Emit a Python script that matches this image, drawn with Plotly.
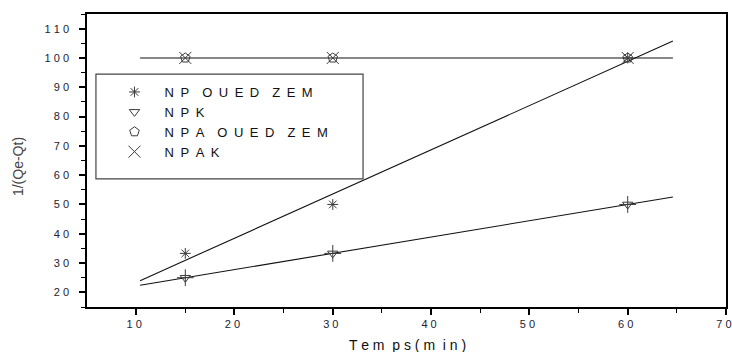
import numpy as np
import plotly.graph_objects as go

# ---- data ----
time_min = [15, 30, 60]
np_oued_zem = [33.3, 50.0, 100.0]
npk = [25.0, 33.3, 50.0]
npa_oued_zem = [100.0, 100.0, 100.0]
npak = [100.0, 100.0, 100.0]
fit_span = [10.4, 64.6]

series_names = [
    "N\u2002P\u2002\u2002O\u2002U\u2002E\u2002D\u2002\u2002Z\u2002E\u2002M",
    "N\u2002P\u2002K",
    "N\u2002P\u2002A\u2002\u2002O\u2002U\u2002E\u2002D\u2002\u2002Z\u2002E\u2002M",
    "N\u2002P\u2002A\u2002K",
]

x_ticks = [10, 20, 30, 40, 50, 60, 70]
x_ticktext = ["1 0", "2 0", "3 0", "4 0", "5 0", "6 0", "7 0"]
x_minor = [15, 25, 35, 45, 55, 65]
y_ticks = [20, 30, 40, 50, 60, 70, 80, 90, 100, 110]
y_ticktext = ["2 0", "3 0", "4 0", "5 0", "6 0", "7 0", "8 0", "9 0", "1 0 0", "1 1 0"]
y_minor = [15, 25, 35, 45, 55, 65, 75, 85, 95, 105, 115]

FONT = "Liberation Sans, Arial, sans-serif"
MK = "#3a3a3a"
LEAD = "\u2002 "

fig = go.Figure()

# linear fit lines
fx = np.array(fit_span)
for ys in (np_oued_zem, npk, npa_oued_zem):
    a, b = np.polyfit(time_min, ys, 1)
    fig.add_trace(go.Scatter(x=fx, y=a * fx + b, mode="lines",
                             line=dict(color="#111111", width=1.1),
                             showlegend=False, hoverinfo="skip"))

# markers
fig.add_trace(go.Scatter(x=time_min, y=np_oued_zem, mode="markers", name=LEAD + series_names[0],
                         marker=dict(symbol="asterisk-open", size=9, color=MK,
                                     line=dict(color=MK, width=1))))
fig.add_trace(go.Scatter(x=time_min, y=npk, mode="markers", name=LEAD + series_names[1],
                         marker=dict(symbol="triangle-down-open", size=9, color=MK,
                                     line=dict(color=MK, width=1))))
fig.add_trace(go.Scatter(x=time_min, y=npk, mode="markers", showlegend=False,
                         marker=dict(symbol="cross-thin-open", size=12, color=MK,
                                     line=dict(color=MK, width=1))))
fig.add_trace(go.Scatter(x=time_min, y=npa_oued_zem, mode="markers", name=LEAD + series_names[2],
                         marker=dict(symbol="pentagon-open", size=10, color=MK,
                                     line=dict(color=MK, width=1))))
fig.add_trace(go.Scatter(x=time_min, y=npak, mode="markers", name=LEAD + series_names[3],
                         marker=dict(symbol="x-thin-open", size=12, color=MK,
                                     line=dict(color=MK, width=1))))

axis_common = dict(showgrid=False, zeroline=False, showline=True, mirror=True,
                   linecolor="black", linewidth=1.6, ticks="outside", ticklen=6,
                   tickwidth=1.5, tickcolor="black", automargin=False,
                   tickfont=dict(family=FONT, size=11, color="#222233"))

fig.update_layout(
    width=732, height=352,
    margin=dict(l=87, r=6, t=14, b=45),
    paper_bgcolor="white", plot_bgcolor="white",
    font=dict(family=FONT),
    xaxis=dict(range=[5, 70], tickmode="array", tickvals=x_ticks, ticktext=x_ticktext,
               ticklabeloverflow="allow", ticklabelshift=-2,
               minor=dict(tickmode="array", tickvals=x_minor, ticks="outside", ticklen=4,
                          tickwidth=1.2, tickcolor="black"),
               **axis_common),
    yaxis=dict(range=[15, 115], tickmode="array", tickvals=y_ticks, ticktext=y_ticktext,
               ticklabelstandoff=8,
               minor=dict(tickmode="array", tickvals=y_minor, ticks="outside", ticklen=4,
                          tickwidth=1.2, tickcolor="black"),
               **axis_common),
    legend=dict(x=0.043, y=0.785, xanchor="left", yanchor="top",
                bgcolor="rgba(0,0,0,0)", borderwidth=0, itemwidth=30,
                font=dict(family=FONT, size=13, color="#111111"),
                tracegroupgap=0),
    shapes=[dict(type="rect", xref="paper", yref="paper",
                 x0=0.014, x1=0.432, y0=0.437, y1=0.795,
                 line=dict(color="#444444", width=1.2), fillcolor="rgba(0,0,0,0)")],
    annotations=[
        dict(text="1/(Qe-Qt)", xref="paper", yref="paper", x=-0.108, y=0.481,
             textangle=-90, showarrow=False, xanchor="center", yanchor="middle",
             font=dict(family=FONT, size=14, color="#444444")),
        dict(text="T e m  p s ( m  i n )", xref="paper", yref="paper", x=0.502, y=-0.130,
             showarrow=False, xanchor="center", yanchor="middle",
             font=dict(family=FONT, size=14, color="#111111")),
    ],
)

fig.write_html("out.html", config={"displayModeBar": False},
               post_script="document.body.style.margin='0';document.body.style.padding='0';")
